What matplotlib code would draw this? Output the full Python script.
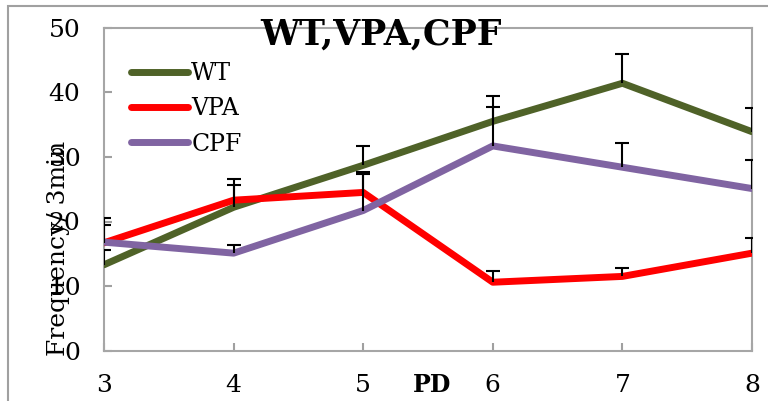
import matplotlib.pyplot as plt
from matplotlib.patches import Rectangle
import numpy as np

plt.rcParams['font.family'] = ['DejaVu Serif']

# data
pd_days = [3, 4, 5, 6, 7, 8]
wt = [13.3, 22.2, 28.7, 35.5, 41.4, 33.9]
wt_err = [2.3, 4.4, 3.0, 3.9, 4.6, 3.6]
vpa = [16.7, 23.3, 24.5, 10.6, 11.5, 15.1]
vpa_err = [2.7, 2.3, 3.1, 1.7, 1.3, 2.3]
cpf = [16.8, 15.1, 21.7, 31.7, 28.4, 25.1]
cpf_err = [3.7, 1.3, 5.6, 6.0, 3.7, 4.4]

series = [('WT', wt, wt_err, '#4f6228'),
          ('VPA', vpa, vpa_err, '#ff0000'),
          ('CPF', cpf, cpf_err, '#8064a2')]

W, H = 768, 401
fig = plt.figure(figsize=(W / 100, H / 100), dpi=100)
ax = fig.add_axes([104 / W, 1 - 350.7 / H, (752 - 104) / W, (350.7 - 27.7) / H])

for name, vals, err, col in series:
    ax.plot(pd_days, vals, color=col, lw=5, label=name, zorder=3,
            solid_capstyle='round')
    tops = np.array(vals) + np.array(err)
    # plus-only error bars: stem + top cap
    ax.vlines(pd_days, vals, tops, color='black', lw=1.5, zorder=4)
    ax.plot(pd_days, tops, ls='none', marker='_', ms=10, mew=1.5,
            color='black', zorder=4)

ax.set_xlim(3, 8)
ax.set_ylim(0, 50)
ax.set_xticks(pd_days)
ax.set_yticks(range(0, 51, 10))
ax.tick_params(direction='in', length=6, width=1.5, color='#a0a0a0',
               labelsize=18, pad=17)
for s in ax.spines.values():
    s.set_color('#a6a6a6')
    s.set_linewidth(1.5)

leg = ax.legend(loc='upper left', bbox_to_anchor=(131 / W, 1 - 62 / H),
                bbox_transform=fig.transFigure, frameon=False, fontsize=17,
                handlelength=2.4, handletextpad=0.15, labelspacing=0.52,
                borderpad=0, borderaxespad=0)

fig.text(381 / W, 1 - 35 / H, 'WT,VPA,CPF', ha='center', va='center',
         fontsize=25, fontweight='bold')
fig.text(432 / W, 1 - 385 / H, 'PD', ha='center', va='center',
         fontsize=17, fontweight='bold')
fig.text(58 / W, 1 - 248 / H, 'Frequency/ 3min', ha='center', va='center',
         rotation=90, fontsize=18)

# outer chart border (only top/left visible)
fig.add_artist(Rectangle((8 / W, -0.2), 1.5, 1.2 - 6 / H,
                         transform=fig.transFigure, fill=False,
                         edgecolor='#a0a0a0', lw=1.5))

fig.savefig('out.png', dpi=100)
